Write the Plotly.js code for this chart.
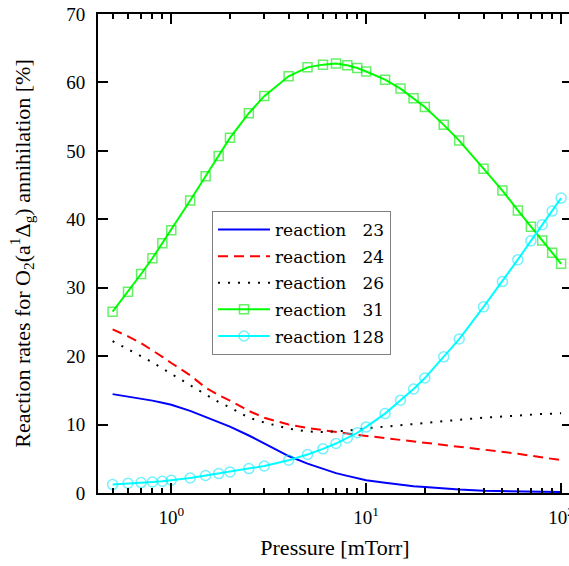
<!DOCTYPE html>
<html><head><meta charset="utf-8">
<script src="https://cdn.plot.ly/plotly-3.0.1.min.js"></script>
<style>html,body{margin:0;padding:0;overflow:hidden;background:#fff}#chart{width:580px;height:566px}</style>
</head><body><div id="chart"></div>
<script>
const pressure = [0.5,0.6,0.7,0.8,0.9,1,1.25,1.5,1.75,2,2.5,3,4,5,6,7,8,9,10,12.5,15,17.5,20,25,30,40,50,60,70,80,90,100];
const r23 = [14.45,14.1,13.8,13.5,13.2,12.9,12.0,11.1,10.4,9.7,8.4,7.2,5.4,4.3,3.5,2.9,2.5,2.15,1.86,1.5,1.2,1.0,0.88,0.65,0.5,0.32,0.25,0.2,0.18,0.16,0.15,0.14];
const r24 = [23.9,22.9,21.9,20.9,19.9,19.0,17.2,15.4,14.3,13.5,12.0,11.0,10.0,9.5,9.15,8.9,8.7,8.5,8.35,8.0,7.75,7.5,7.35,7.0,6.8,6.4,6.0,5.75,5.45,5.2,5.0,4.8];
const r26 = [22.2,21.0,20.0,19.1,18.2,17.4,15.7,14.4,13.3,12.5,11.0,10.3,9.4,9.0,8.9,8.95,9.1,9.3,9.45,9.7,9.9,10.1,10.25,10.5,10.7,11.0,11.2,11.35,11.45,11.55,11.6,11.65];
const r31 = [26.5,29.4,32.0,34.3,36.5,38.4,42.75,46.3,49.25,51.9,55.5,58.0,60.9,62.2,62.6,62.75,62.5,62.1,61.6,60.4,59.1,57.7,56.4,53.8,51.5,47.4,44.2,41.3,38.9,36.9,35.1,33.5];
const r128 = [1.23,1.42,1.52,1.61,1.71,1.86,2.2,2.55,2.84,3.08,3.57,3.95,4.79,5.62,6.45,7.23,8.05,8.8,9.66,11.6,13.57,15.2,16.8,19.9,22.5,27.2,30.9,34.1,36.85,39.2,41.2,43.1];
const seriesNames = ['reaction\u00a0\u00a0\u00a023','reaction\u00a0\u00a0\u00a024','reaction\u00a0\u00a0\u00a026','reaction\u00a0\u00a0\u00a031','reaction\u00a0128'];
const xTickVals = [1,10,100];
const xTickText = ['10<sup>0</sup>','10<sup>1</sup>','10<sup>2</sup>'];
const xMinorVals = [0.5,0.6,0.7,0.8,0.9,2,3,4,5,6,7,8,9,20,30,40,50,60,70,80,90];

const serif = 'Liberation Serif, Times New Roman, serif';
const wide = 'DejaVu Serif, serif';

const traces = [
  {x: pressure, y: r23, name: seriesNames[0], mode: 'lines', line: {color: '#0000ff', width: 2}, legendgroup: 'a'},
  {x: pressure, y: r24, name: seriesNames[1], mode: 'lines', line: {color: '#ff0000', width: 2, dash: '10px,6px'}, legendgroup: 'b'},
  {x: pressure, y: r26, name: seriesNames[2], mode: 'lines', line: {color: '#000000', width: 2, dash: '2px,8px'}, legendgroup: 'c'},
  {x: pressure, y: r31, name: seriesNames[3], mode: 'lines+markers', line: {color: '#00ff00', width: 2},
   marker: {symbol: 'square-open', size: 9, color: 'rgba(0,230,0,0.6)', line: {width: 1.5, color: 'rgba(0,230,0,0.6)'}}, legendgroup: 'd'},
  {x: pressure, y: r128, name: seriesNames[4], mode: 'lines+markers', line: {color: '#00ffff', width: 2},
   marker: {symbol: 'circle-open', size: 10, color: 'rgba(0,230,255,0.55)', line: {width: 1.5, color: 'rgba(0,230,255,0.55)'}}, legendgroup: 'e'}
];

const layout = {
  width: 580, height: 566,
  margin: {l: 98, r: 8, t: 14, b: 73},
  paper_bgcolor: '#fff', plot_bgcolor: '#fff',
  showlegend: true,
  legend: {x: 0.2405, y: 0.5887, xanchor: 'left', yanchor: 'top', bgcolor: '#fff', bordercolor: '#808080', borderwidth: 1,
    font: {family: wide, size: 17, color: '#000'}, traceorder: 'grouped', tracegroupgap: 1.5, itemwidth: 52},
  xaxis: {type: 'log', range: [-0.376, 2.056], showline: true, linewidth: 2, linecolor: '#000', mirror: 'ticks',
    ticks: 'inside', ticklen: 10, tickwidth: 2, tickcolor: '#000', tickmode: 'array', tickvals: xTickVals, ticktext: xTickText,
    showgrid: false, zeroline: false, ticklabelstandoff: 6,
    tickfont: {family: serif, size: 19, color: '#000'},
    minor: {tickmode: 'array', tickvals: xMinorVals, ticks: 'inside', ticklen: 5, tickwidth: 1.5, tickcolor: '#000', showgrid: false},
    title: {text: 'Pressure [mTorr]', font: {family: serif, size: 22, color: '#000'}, standoff: 13}},
  yaxis: {range: [0, 70], dtick: 10, showline: true, linewidth: 2, linecolor: '#000', mirror: 'ticks',
    ticks: 'inside', ticklen: 10, tickwidth: 2, tickcolor: '#000', showgrid: false, zeroline: false, ticklabelstandoff: 7,
    tickfont: {family: serif, size: 19, color: '#000'},
    title: {text: 'Reaction rates for O<sub>2</sub>(a<sup>1</sup>\u0394<sub>g</sub>) annihilation [%]', font: {family: serif, size: 22, color: '#000'}, standoff: 30}}
};

Plotly.newPlot('chart', traces, layout, {displayModeBar: false, responsive: false});
</script>
</body></html>
